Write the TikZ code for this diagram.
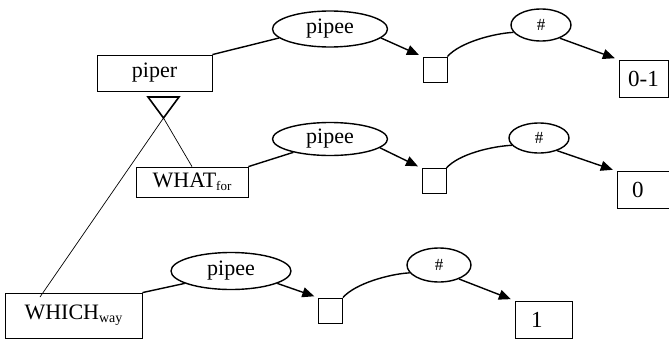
\documentclass[tikz,border=0pt]{standalone}
\usepackage{fontspec}
\setmainfont{Liberation Serif}
\usetikzlibrary{shapes.geometric,arrows.meta}
\begin{document}
\begin{tikzpicture}[x=1pt,y=-1pt,
 box/.style={draw,line width=0.8pt,rectangle,inner sep=0pt,font=\fontsize{22}{26}\selectfont},
 oval/.style={draw,ellipse,line width=1.4pt,inner sep=0pt,minimum width=115pt,minimum height=36pt,font=\fontsize{22}{26}\selectfont},
 hash/.style={draw,ellipse,line width=1.4pt,inner sep=0pt,minimum width=60pt,minimum height=32pt,font=\fontsize{17}{20}\selectfont},
 sq/.style={draw,line width=0.8pt,rectangle,inner sep=0pt,minimum width=24pt,minimum height=25pt},
 val/.style={draw,line width=0.8pt,rectangle,inner ysep=0pt,minimum height=37pt,align=left,font=\fontsize{23}{26}\selectfont},
 link/.style={line width=1.4pt},
 arr/.style={line width=1.4pt,shorten >=4pt,-{Triangle[length=12pt,width=10pt]}},
 thinlink/.style={line width=0.7pt}]
\useasboundingbox (0,0) rectangle (669,340);

% left boxes
\node[box,minimum width=115pt,minimum height=36pt] (piper) at (154.5,73) {piper};
\node[box,minimum width=112pt,minimum height=30pt] (what) at (192,182) {WHAT\raisebox{-3pt}{\fontsize{13}{13}\selectfont for}};
\node[box,minimum width=137pt,minimum height=45pt] (which) at (73.5,315.5) {WHICH\raisebox{-3pt}{\fontsize{14}{14}\selectfont way}};

% triangle
\draw[line width=1.6pt] (148,97) -- (179,97) -- (163.5,118) -- cycle;
\coordinate (apex) at (163.5,118);
\coordinate (wend) at (40,297);
\draw[thinlink] (apex) -- (what.north);
\draw[thinlink] (apex) -- (wend);

% row 1
\node[oval] (p1) at (330,29) {pipee};
\node[sq] (s1) at (435,69.5) {};
\node[hash] (h1) at (541,25) {\#};
\node[val,minimum width=49pt] (b1) at (643.5,78.5) {0-1};

% row 2
\node[oval,minimum height=33pt] (p2) at (330,139) {pipee};
\node[sq] (s2) at (434,181) {};
\node[hash,minimum height=30pt] (h2) at (539,138) {\#};
\node[val,inner xsep=15pt,text width=26pt] (b2) at (645,190) {0};

% row 3
\node[oval,minimum width=120pt,minimum height=37pt] (p3) at (231,271) {pipee};
\node[sq] (s3) at (330.5,310.5) {};
\node[hash,minimum width=64pt,minimum height=34pt] (h3) at (439,265) {\#};
\node[val,inner xsep=16pt,text width=25pt] (b3) at (543.5,319.5) {1};

% connectors row 1
\draw[link] (piper.north east) -- (p1.190);
\draw[arr] (p1.-10) -- (s1.north west);
\draw[link] (s1.north east) .. controls +(12,-14) and +(-20,1) .. (h1.195);
\draw[arr] (h1.-35) -- (b1.north west);

% connectors row 2
\draw[link] (what.north east) -- (p2.200);
\draw[arr] (p2.-10) -- (s2.north west);
\draw[link] (s2.north east) .. controls +(12,-14) and +(-20,1) .. (h2.195);
\draw[arr] (h2.-35) -- (b2.north west);

% connectors row 3
\draw[link] (which.north east) -- (p3.195);
\draw[arr] (p3.-15) -- (s3.north west);
\draw[link] (s3.north east) .. controls +(12,-14) and +(-20,1) .. (h3.195);
\draw[arr] (h3.-35) -- (b3.north west);
\end{tikzpicture}
\end{document}
